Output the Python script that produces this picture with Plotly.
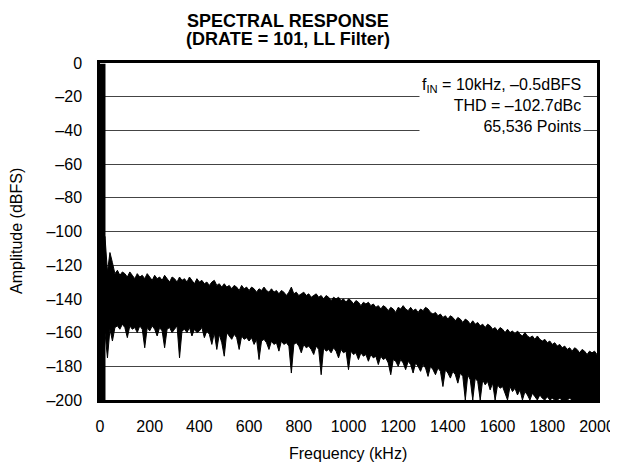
import plotly.graph_objects as go

# ---------------- data ----------------
freq_khz = list(range(0, 2001, 10))  # FFT display bins (kHz)

noise_peak_dbfs = [
    -112, -108, -103, -124, -112.5, -118.5, -125, -123, -126, -124,
    -125, -127, -124, -126, -128, -125, -127, -126, -128, -125,
    -127, -129, -126, -128, -127, -129, -126, -128, -130, -127,
    -128, -130, -127, -129, -128, -130, -127, -129, -131, -128,
    -130, -129, -131, -130, -132, -130, -129, -132, -131, -133,
    -131, -133, -132, -134, -132, -133, -135, -132, -134, -133,
    -135, -133, -134, -136, -134, -135, -133, -135, -136, -134,
    -136, -135, -137, -135, -136, -138, -136, -133, -137, -136,
    -138, -137, -136, -138, -137, -139, -138, -137, -139, -138,
    -140, -138, -139, -141, -139, -140, -139, -141, -140, -142,
    -140, -141, -143, -141, -142, -144, -142, -143, -142, -144,
    -143, -145, -144, -146, -144, -145, -147, -145, -146, -148,
    -145, -146, -144, -146, -147, -145, -147, -146, -148, -146,
    -147, -145, -146, -148, -149, -148, -150, -149, -151, -150,
    -152, -150, -151, -153, -151, -152, -154, -152, -153, -155,
    -153, -155, -154, -156, -155, -157, -155, -156, -158, -157,
    -159, -157, -158, -160, -158, -160, -159, -161, -159, -161,
    -162, -160, -162, -163, -162, -164, -162, -164, -165, -164,
    -166, -165, -167, -166, -168, -167, -169, -168, -170, -169,
    -171, -169, -170, -172, -170, -171, -173, -171, -172, -171,
    -173,
]

noise_floor_dbfs = [
    -160, -165, -160, -175, -158, -165, -157, -156, -158, -155,
    -157, -163, -156, -158, -157, -160, -156, -158, -169, -157,
    -159, -156, -158, -162, -157, -159, -169, -158, -157, -160,
    -158, -156, -175, -159, -158, -160, -157, -162, -158, -160,
    -159, -157, -163, -159, -161, -167, -160, -170, -161, -166,
    -174, -160, -162, -164, -161, -163, -170, -162, -164, -163,
    -165, -163, -167, -164, -176, -165, -164, -166, -170, -165,
    -167, -166, -171, -165, -167, -166, -168, -184, -167, -166,
    -168, -172, -167, -169, -168, -170, -173, -168, -170, -185,
    -169, -171, -170, -172, -169, -171, -175, -170, -172, -171,
    -182, -171, -173, -172, -176, -172, -174, -173, -177, -173,
    -175, -174, -179, -174, -176, -175, -178, -185, -176, -177,
    -180, -176, -178, -182, -177, -179, -184, -178, -180, -183,
    -179, -181, -186, -180, -182, -185, -181, -183, -192, -182,
    -184, -187, -183, -185, -190, -184, -186, -200, -185, -188,
    -200, -187, -189, -200, -188, -191, -189, -194, -190, -200,
    -191, -193, -192, -196, -200, -192, -195, -193, -197, -194,
    -200, -195, -197, -200, -196, -198, -200, -197, -199, -200,
    -198, -200, -199, -200, -200, -199, -200, -200, -200, -199,
    -200, -200, -200, -200, -200, -200, -200, -200, -200, -200,
    -200,
]

tone_freq_khz = [10]
tone_amp_dbfs = [-0.5]

y_tick_vals = [0, -20, -40, -60, -80, -100, -120, -140, -160, -180, -200]
y_tick_text = ["0", "\u201320", "\u201340", "\u201360", "\u201380", "\u2013100",
               "\u2013120", "\u2013140", "\u2013160", "\u2013180", "\u2013200"]
x_tick_vals = [0, 200, 400, 600, 800, 1000, 1200, 1400, 1600, 1800, 2000]
x_tick_text = [str(v) for v in x_tick_vals]

Y_MIN, Y_MAX = -200, 0
X_MIN, X_MAX = 0, 2000

FONT = "Liberation Sans, Arial, Helvetica, sans-serif"

fig = go.Figure()

# noise floor band: lower edge then upper edge filled to it
fig.add_trace(go.Scatter(
    x=freq_khz, y=noise_floor_dbfs, mode="lines",
    line=dict(color="black", width=1), hoverinfo="skip", showlegend=False,
))
fig.add_trace(go.Scatter(
    x=freq_khz, y=noise_peak_dbfs, mode="lines",
    line=dict(color="black", width=1), fill="tonexty", fillcolor="black",
    hoverinfo="skip", showlegend=False,
))

# fundamental tone
tx, ty = [], []
for f, a in zip(tone_freq_khz, tone_amp_dbfs):
    tx += [f, f, None]
    ty += [Y_MIN, a, None]
fig.add_trace(go.Scatter(
    x=tx, y=ty, mode="lines", line=dict(color="black", width=6),
    hoverinfo="skip", showlegend=False,
))

# page body has an 8px default margin: size the figure so it fits the window
fig.update_layout(
    width=610, height=458,
    margin=dict(l=92, r=21, t=55, b=66, autoexpand=False),
    paper_bgcolor="white", plot_bgcolor="white",
    font=dict(family=FONT, size=16, color="black"),
    showlegend=False,
)

fig.update_xaxes(
    range=[X_MIN, X_MAX], tickvals=x_tick_vals, ticktext=x_tick_text,
    showgrid=False, zeroline=False, automargin=False,
    showline=True, linewidth=2.5, linecolor="black", mirror=True,
    ticks="outside", ticklen=10, tickcolor="rgba(0,0,0,0)",
    tickfont=dict(family=FONT, size=16, color="black"),
)
fig.update_yaxes(
    range=[Y_MIN, Y_MAX], tickvals=y_tick_vals, ticktext=y_tick_text,
    showgrid=True, gridcolor="#444", gridwidth=1, zeroline=False, automargin=False,
    showline=True, linewidth=2.5, linecolor="black", mirror=True,
    ticks="outside", ticklen=12, tickcolor="rgba(0,0,0,0)",
    tickfont=dict(family=FONT, size=16, color="black"),
)

# titles
fig.add_annotation(text="<b>SPECTRAL RESPONSE</b>", xref="paper", yref="paper",
                   x=0.378, y=1.125, xanchor="center", yanchor="middle",
                   showarrow=False, font=dict(family=FONT, size=18, color="black"))
fig.add_annotation(text="<b>(DRATE = 101, LL Filter)</b>", xref="paper", yref="paper",
                   x=0.378, y=1.07, xanchor="center", yanchor="middle",
                   showarrow=False, font=dict(family=FONT, size=18, color="black"))

# axis titles
fig.add_annotation(text="Amplitude (dBFS)", xref="paper", yref="paper",
                   x=-0.168, y=0.5, xanchor="center", yanchor="middle", textangle=-90,
                   showarrow=False, font=dict(family=FONT, size=16, color="black"))
fig.add_annotation(text="Frequency (kHz)", xref="paper", yref="paper",
                   x=0.498, y=-0.16, xanchor="center", yanchor="middle",
                   showarrow=False, font=dict(family=FONT, size=16, color="black"))

# test conditions
fig.add_annotation(
    text="f<sub>IN</sub> = 10kHz, \u20130.5dBFS<br>THD = \u2013102.7dBc<br>65,536 Points",
    xref="paper", yref="paper", x=0.974, y=0.97, xanchor="right", yanchor="top",
    align="right", showarrow=False, bgcolor="white", borderpad=2,
    font=dict(family=FONT, size=16, color="black"),
)

fig.write_html("out.html")
